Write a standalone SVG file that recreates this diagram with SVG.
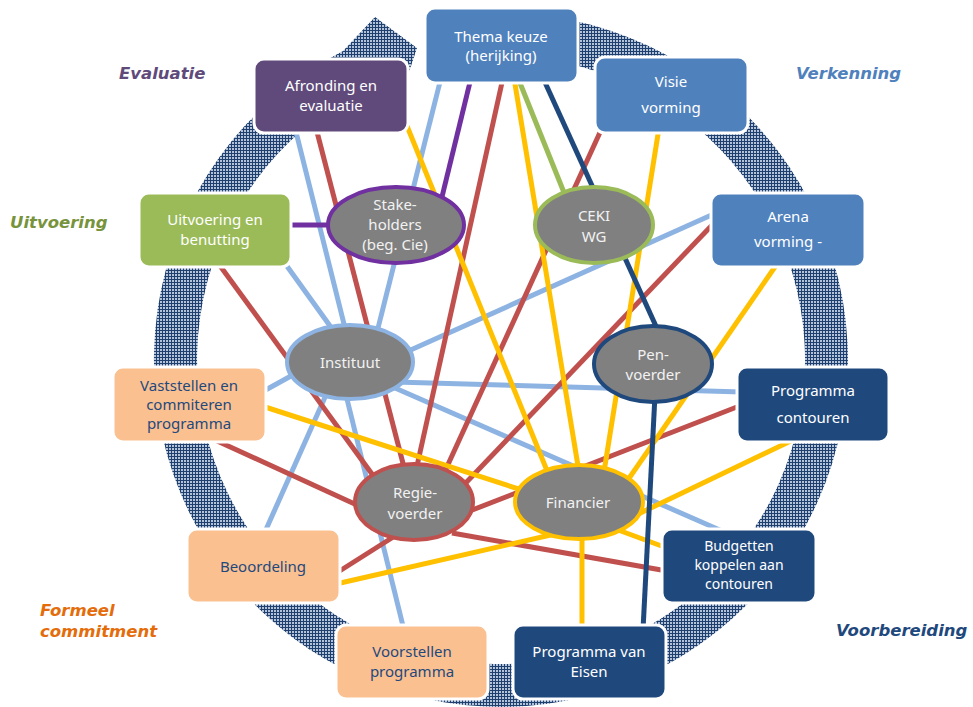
<svg xmlns="http://www.w3.org/2000/svg" width="973" height="707" viewBox="0 0 973 707">
  <defs>
    <pattern id="hatch" width="3" height="3" patternUnits="userSpaceOnUse">
      <rect width="3" height="3" fill="#b3c3d9"/>
      <path d="M0 0.5H3M0.5 0V3" stroke="#1f3f6e" stroke-width="1"/>
    </pattern>
    <style>
      .lb{stroke:#8db3e2}
      .rd{stroke:#c0504d}
      .gd{stroke:#ffc000}
      .pu{stroke:#7030a0}
      .gr{stroke:#9bbb59}
      .nv{stroke:#1f497d}
      #links line{stroke-width:5;stroke-linecap:butt}
      .box{stroke:#ffffff;stroke-width:3}
      .blue{fill:#4f81bd}
      .navy{fill:#1f497d}
      .purple{fill:#604a7b}
      .green{fill:#9bbb59}
      .peach{fill:#fac090}
      .ell{fill:#808080;stroke-width:4}
      text{font-family:"Noto Sans","Open Sans","Liberation Sans",sans-serif;font-size:15px;text-anchor:middle}
      .sm{font-size:14px}
      .lt{fill:#ffffff}
      .dk{fill:#1f497d}
      .et{fill:#f2f2f2}
      .phase{font-family:"DejaVu Sans","Verdana",sans-serif;font-weight:bold;font-style:italic;font-size:16.5px;text-anchor:start}
    </style>
  </defs>

  <!-- circular process arrow behind the network -->
  <path id="cycle" fill="url(#hatch)" d="M343.0 51.0 A347 347 0 1 0 531.2 14.3 L527.5 57.2 A304 304 0 1 1 362.6 89.4 L398 105 L417 48 L375 17 Z"/>

  <!-- connectors -->
  <g id="links">
    <!-- Instituut -->
    <line class="lb" x1="441" y1="78" x2="375" y2="340"/>
    <line class="lb" x1="295" y1="128" x2="348" y2="340"/>
    <line class="lb" x1="284" y1="262" x2="338" y2="337"/>
    <line class="lb" x1="716" y1="213" x2="395" y2="357"/>
    <line class="lb" x1="395" y1="382" x2="742" y2="392"/>
    <line class="lb" x1="395" y1="388" x2="722" y2="531"/>
    <line class="lb" x1="262" y1="392" x2="300" y2="371"/>
    <line class="lb" x1="264" y1="534" x2="326" y2="395"/>
    <line class="lb" x1="404" y1="630" x2="346" y2="395"/>
    <!-- Regievoerder -->
    <line class="rd" x1="503" y1="78" x2="415" y2="475"/>
    <line class="rd" x1="316" y1="128" x2="406" y2="475"/>
    <line class="rd" x1="218" y1="263" x2="380" y2="485"/>
    <line class="rd" x1="602" y1="128" x2="440" y2="482"/>
    <line class="rd" x1="715" y1="222" x2="460" y2="489"/>
    <line class="rd" x1="215" y1="440" x2="370" y2="511"/>
    <line class="rd" x1="742" y1="405" x2="462" y2="514"/>
    <line class="rd" x1="667" y1="571" x2="452" y2="533"/>
    <line class="rd" x1="338" y1="572" x2="398" y2="534"/>
    <!-- Financier -->
    <line class="gd" x1="514" y1="78" x2="580" y2="478"/>
    <line class="gd" x1="407" y1="126" x2="550" y2="478"/>
    <line class="gd" x1="659" y1="128" x2="603" y2="478"/>
    <line class="gd" x1="777" y1="264" x2="623" y2="487"/>
    <line class="gd" x1="262" y1="406" x2="528" y2="492"/>
    <line class="gd" x1="797" y1="438" x2="632" y2="517"/>
    <line class="gd" x1="336" y1="584" x2="555" y2="534"/>
    <line class="gd" x1="610" y1="527" x2="667" y2="548"/>
    <line class="gd" x1="582" y1="530" x2="582" y2="630"/>
    <!-- Stakeholders -->
    <line class="pu" x1="471" y1="78" x2="440" y2="205"/>
    <line class="pu" x1="286" y1="225" x2="345" y2="225"/>
    <!-- CEKI WG -->
    <line class="gr" x1="518" y1="78" x2="567" y2="200"/>
    <!-- Penvoerder -->
    <line class="nv" x1="543" y1="78" x2="660" y2="335"/>
    <line class="nv" x1="655" y1="395" x2="643" y2="630"/>
  </g>

  <!-- actors -->
  <g id="stakeholders">
    <ellipse class="ell" cx="396" cy="225" rx="68" ry="38" stroke="#7030a0"/>
    <text class="et" x="395" y="210">Stake-</text>
    <text class="et" x="395" y="230">holders</text>
    <text class="et" x="395" y="250">(beg. Cie)</text>
  </g>
  <g id="ceki">
    <ellipse class="ell" cx="594" cy="225" rx="59" ry="38" stroke="#9bbb59"/>
    <text class="et" x="594" y="221">CEKI</text>
    <text class="et" x="594" y="242">WG</text>
  </g>
  <g id="instituut">
    <ellipse class="ell" cx="350" cy="362" rx="63" ry="37" stroke="#8db3e2"/>
    <text class="et" x="350" y="368">Instituut</text>
  </g>
  <g id="penvoerder">
    <ellipse class="ell" cx="653" cy="364" rx="59" ry="38" stroke="#1f497d"/>
    <text class="et" x="653" y="360">Pen-</text>
    <text class="et" x="653" y="380">voerder</text>
  </g>
  <g id="regievoerder">
    <ellipse class="ell" cx="414" cy="502" rx="59" ry="38" stroke="#c0504d"/>
    <text class="et" x="415" y="498">Regie-</text>
    <text class="et" x="415" y="519">voerder</text>
  </g>
  <g id="financier">
    <ellipse class="ell" cx="579" cy="502" rx="64" ry="37" stroke="#ffc000"/>
    <text class="et" x="578" y="508">Financier</text>
  </g>

  <!-- process steps -->
  <g id="thema">
    <rect class="box blue" x="425" y="8" width="153" height="75" rx="10"/>
    <text class="lt" x="501" y="42">Thema keuze</text>
    <text class="lt" x="501" y="61">(herijking)</text>
  </g>
  <g id="visie">
    <rect class="box blue" x="595" y="57" width="153" height="76" rx="10"/>
    <text class="lt" x="671" y="87">Visie</text>
    <text class="lt" x="671" y="113">vorming</text>
  </g>
  <g id="arena">
    <rect class="box blue" x="711" y="193" width="154" height="74" rx="10"/>
    <text class="lt" x="788" y="222">Arena</text>
    <text class="lt" x="788" y="247">vorming -</text>
  </g>
  <g id="contouren">
    <rect class="box navy" x="737" y="367" width="152" height="75" rx="10"/>
    <text class="lt" x="813" y="396">Programma</text>
    <text class="lt" x="813" y="423">contouren</text>
  </g>
  <g id="budgetten">
    <rect class="box navy" x="662" y="529" width="154" height="74" rx="10"/>
    <text class="lt sm" x="739" y="551">Budgetten</text>
    <text class="lt sm" x="739" y="570">koppelen aan</text>
    <text class="lt sm" x="739" y="589">contouren</text>
  </g>
  <g id="eisen">
    <rect class="box navy" x="513" y="625" width="153" height="74" rx="10"/>
    <text class="lt" x="589" y="657">Programma van</text>
    <text class="lt" x="589" y="677">Eisen</text>
  </g>
  <g id="voorstellen">
    <rect class="box peach" x="336" y="625" width="152" height="74" rx="10"/>
    <text class="dk" x="412" y="657">Voorstellen</text>
    <text class="dk" x="412" y="677">programma</text>
  </g>
  <g id="beoordeling">
    <rect class="box peach" x="187" y="529" width="153" height="74" rx="10"/>
    <text class="dk" x="263" y="572">Beoordeling</text>
  </g>
  <g id="vaststellen">
    <rect class="box peach" x="113" y="367" width="153" height="75" rx="10"/>
    <text class="dk" x="189" y="391">Vaststellen en</text>
    <text class="dk" x="189" y="410">commiteren</text>
    <text class="dk" x="189" y="429">programma</text>
  </g>
  <g id="uitvoering">
    <rect class="box green" x="139" y="193" width="152" height="74" rx="10"/>
    <text class="lt" x="215" y="225">Uitvoering en</text>
    <text class="lt" x="215" y="245">benutting</text>
  </g>
  <g id="afronding">
    <rect class="box purple" x="254" y="59" width="154" height="74" rx="10"/>
    <text class="lt" x="331" y="91">Afronding en</text>
    <text class="lt" x="331" y="111">evaluatie</text>
  </g>

  <!-- phase names -->
  <g id="phases">
    <text class="phase" x="119" y="79" fill="#604a7b">Evaluatie</text>
    <text class="phase" x="796" y="79" fill="#4f81bd">Verkenning</text>
    <text class="phase" x="10" y="228" fill="#77933c">Uitvoering</text>
    <text class="phase" x="40" y="616" fill="#e46c0a">Formeel</text>
    <text class="phase" x="40" y="637" fill="#e46c0a">commitment</text>
    <text class="phase" x="836" y="636" fill="#1f497d">Voorbereiding</text>
  </g>
</svg>
